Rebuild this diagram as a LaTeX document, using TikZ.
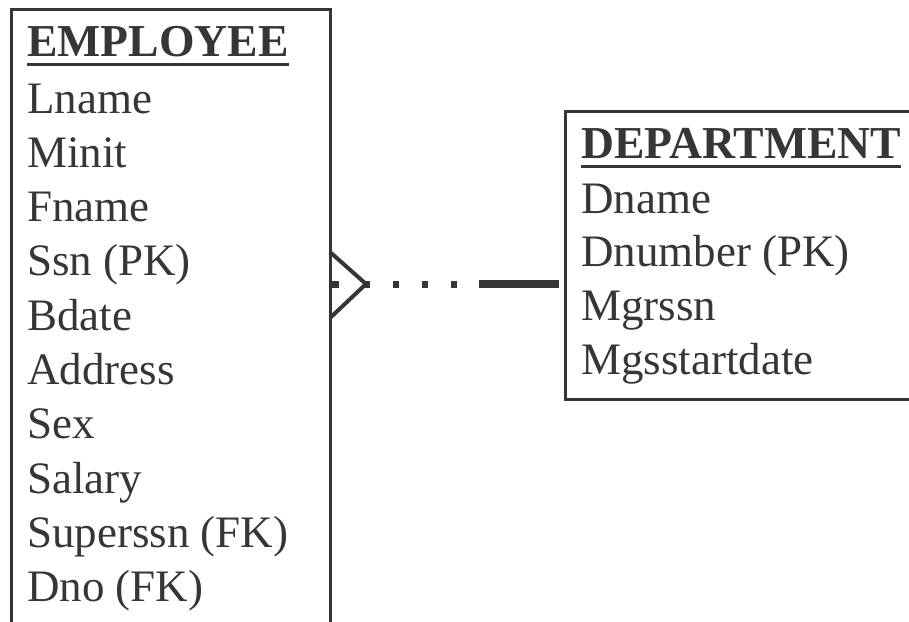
\documentclass[tikz,border=0pt]{standalone}
\usepackage{fontspec}
\setmainfont{Liberation Serif}
\definecolor{ink}{HTML}{363636}
\tikzset{
  entity/.style={draw=ink, line width=3pt, anchor=north west, inner sep=0pt, outer sep=0pt},
  title/.style={anchor=base west, inner sep=0pt, text=ink, font=\fontsize{45.7}{54}\selectfont\bfseries},
  attr/.style={anchor=base west, inner sep=0pt, text=ink, font=\fontsize{45}{54}\selectfont},
  uline/.style={draw=ink, line width=3.5pt},
  foot/.style={draw=ink, line width=4pt},
  optional/.style={draw=ink, line width=7pt, dash pattern=on 9pt off 25pt on 6pt off 23pt on 6pt off 23pt on 6pt off 23pt on 6pt off 23pt},
  mandatory/.style={draw=ink, line width=7.5pt}
}
\begin{document}
\begin{tikzpicture}[x=1pt,y=-1pt]
  \useasboundingbox (0,0) rectangle (909,621);
  % entity boxes
  \node[entity, minimum width=319pt, minimum height=700pt] (emp) at (11,9.5) {};
  \node[entity, minimum width=400pt, minimum height=288pt] (dept) at (565,111.5) {};
  % EMPLOYEE
  \node[title] (emp-title) at (27,56) {EMPLOYEE};
  \draw[uline] ([yshift=-8.5pt]emp-title.base west) -- ([yshift=-8.5pt]emp-title.base east);
  \foreach \name [count=\i from 0] in {Lname,Minit,Fname,Ssn (PK),Bdate,Address,Sex,Salary,Superssn (FK),Dno (FK)}
    \node[attr] (emp-attr\i) at (27,113+54.3*\i) {\name};
  % DEPARTMENT
  \node[title] (dept-title) at (581,158) {DEPARTMENT};
  \draw[uline] ([yshift=-8.5pt]dept-title.base west) -- ([yshift=-8.5pt]dept-title.base east);
  \foreach \name [count=\i from 0] in {Dname,Dnumber (PK),Mgrssn,Mgsstartdate}
    \node[attr] (dept-attr\i) at (581,213+53.7*\i) {\name};
  % relationship
  \coordinate (crow) at (366,284);
  \coordinate (gap) at (468,284);
  \coordinate (emp-port) at (emp.east |- crow);
  \coordinate (dept-port) at (dept.west |- crow);
  \draw[foot] ([yshift=32pt]emp-port) -- (crow) -- ([yshift=-34pt]emp-port);
  \draw[optional] (emp-port) -- (gap);
  \draw[mandatory, shorten <=11pt, shorten >=6pt] (gap) -- (dept-port);
\end{tikzpicture}
\end{document}
